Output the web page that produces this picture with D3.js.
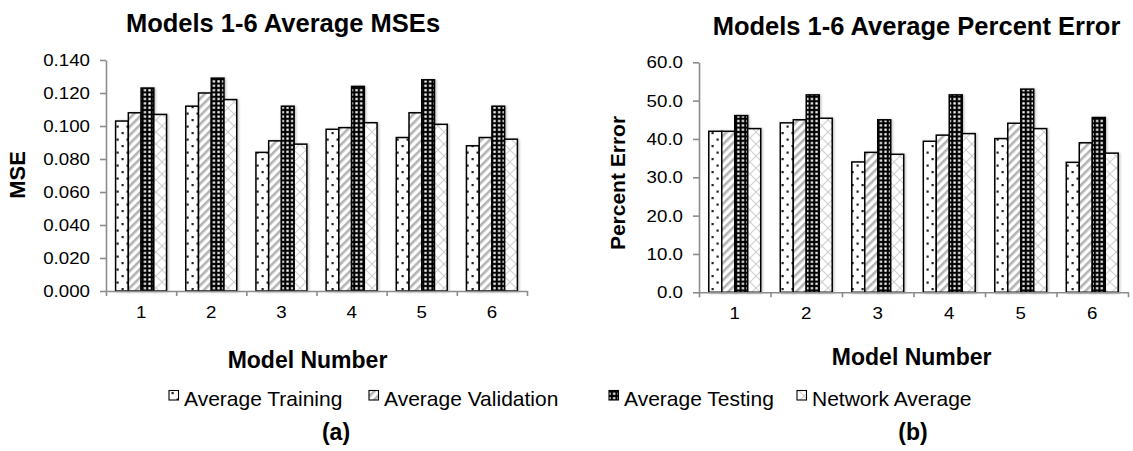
<!DOCTYPE html>
<html><head><meta charset="utf-8">
<script src="https://cdn.jsdelivr.net/npm/d3@7"></script>
<style>
html,body{margin:0;padding:0;background:#fff;}
text{font-family:"Liberation Sans",Arial,Helvetica,sans-serif;fill:#000;}
</style></head>
<body>
<script>
// ---- data ----
const models = ["1","2","3","4","5","6"];
const seriesNames = ["Average Training","Average Validation","Average Testing","Network Average"];
const mseTraining   = [0.103, 0.112, 0.084, 0.098, 0.093, 0.088];
const mseValidation = [0.108, 0.120, 0.091, 0.099, 0.108, 0.093];
const mseTesting    = [0.123, 0.129, 0.112, 0.124, 0.128, 0.112];
const mseNetwork    = [0.107, 0.116, 0.089, 0.102, 0.101, 0.092];
const pctTraining   = [42.0, 44.2, 34.0, 39.4, 40.1, 33.9];
const pctValidation = [42.0, 45.0, 36.5, 41.0, 44.1, 39.0];
const pctTesting    = [46.1, 51.5, 45.0, 51.5, 53.0, 45.6];
const pctNetwork    = [42.7, 45.4, 36.0, 41.4, 42.7, 36.3];
const mseTicks = [0, 0.02, 0.04, 0.06, 0.08, 0.10, 0.12, 0.14];
const pctTicks = [0, 10, 20, 30, 40, 50, 60];
const titleA = "Models 1-6 Average MSEs";
const titleB = "Models 1-6 Average Percent Error";
const yLabelA = "MSE";
const yLabelB = "Percent Error";
const xLabel = "Model Number";

const W = 1133, H = 451;
const svg = d3.select("body").append("svg").attr("width", W).attr("height", H);
const defs = svg.append("defs");

// patterns
const pDots = defs.append("pattern").attr("id","pDots").attr("patternUnits","userSpaceOnUse").attr("width",10).attr("height",13);
pDots.append("rect").attr("width",10).attr("height",13).attr("fill","#fff");
pDots.append("rect").attr("x",1.5).attr("y",2).attr("width",2.2).attr("height",2.2).attr("fill","#222");
pDots.append("rect").attr("x",6.5).attr("y",8.5).attr("width",2.2).attr("height",2.2).attr("fill","#222");

const pDiag = defs.append("pattern").attr("id","pDiag").attr("patternUnits","userSpaceOnUse").attr("width",6).attr("height",6).attr("patternTransform","rotate(45)");
pDiag.append("rect").attr("width",6).attr("height",6).attr("fill","#fff");
pDiag.append("rect").attr("x",0).attr("width",2.6).attr("height",6).attr("fill","#b4b4b4");

const pGrid = defs.append("pattern").attr("id","pGrid").attr("patternUnits","userSpaceOnUse").attr("width",4.6).attr("height",4.4);
pGrid.append("rect").attr("width",4.6).attr("height",4.4).attr("fill","#000");
pGrid.append("rect").attr("x",1.2).attr("y",1.1).attr("width",2.3).attr("height",2.2).attr("fill","#fff");

const pCross = defs.append("pattern").attr("id","pCross").attr("patternUnits","userSpaceOnUse").attr("width",12).attr("height",12);
pCross.append("rect").attr("width",12).attr("height",12).attr("fill","#fff");
pCross.append("path").attr("d","M0,0L12,12M12,0L0,12").attr("stroke","#d0d0d0").attr("stroke-width",1.1);

const fills = ["url(#pDots)","url(#pDiag)","url(#pGrid)","url(#pCross)"];

const shadow = defs.append("filter").attr("id","sh").attr("x","-20%").attr("y","-5%").attr("width","150%").attr("height","115%");
shadow.append("feDropShadow").attr("dx",1.2).attr("dy",0.5).attr("stdDeviation",1.2).attr("flood-color","#000").attr("flood-opacity",0.25);

const axisColor = "#8c8c8c";
const fontTick = 17, stretch = 1.1;

function stretchText(sel){
  sel.each(function(){
    const w = this.getComputedTextLength();
    d3.select(this).attr("textLength", w*stretch).attr("lengthAdjust","spacingAndGlyphs");
  });
}

function drawChart(cfg){
  const g = svg.append("g");
  const x = d3.scaleBand().domain(models).range([cfg.x0, cfg.x1]).padding(0);
  const bw = x.bandwidth();
  const xs = d3.scaleBand().domain(seriesNames).range([bw*0.137, bw*0.863]).padding(0);
  const y = d3.scaleLinear().domain(cfg.domain).range([cfg.yb, cfg.yt]);

  // bars
  cfg.series.forEach((vals, si) => {
    g.append("g").selectAll("rect").data(vals).join("rect")
      .attr("x", (d,i) => x(models[i]) + xs(seriesNames[si]))
      .attr("y", d => y(d))
      .attr("width", xs.bandwidth())
      .attr("height", d => y(0) - y(d))
      .attr("fill", fills[si])
      .attr("stroke", "#000").attr("stroke-width", 1.5)
      .attr("filter","url(#sh)");
  });

  // y axis
  const ya = g.append("g").attr("transform", `translate(${cfg.x0},0)`)
    .call(d3.axisLeft(y).tickValues(cfg.ticks).tickFormat(d3.format(cfg.fmt)).tickSize(6).tickSizeOuter(0).tickPadding(10));
  ya.select(".domain").attr("stroke", axisColor).attr("stroke-width", 1.6);
  ya.selectAll(".tick line").attr("stroke", axisColor).attr("stroke-width", 1.6);
  ya.selectAll(".tick text").attr("font-size", fontTick).attr("fill","#000").attr("font-family",'"Liberation Sans",Arial,sans-serif').call(stretchText);

  // x axis: boundary ticks
  const xb = d3.scaleLinear().domain([0, models.length]).range([cfg.x0, cfg.x1]);
  const xa = g.append("g").attr("transform", `translate(0,${cfg.yb})`)
    .call(d3.axisBottom(xb).tickValues(d3.range(models.length+1)).tickFormat("").tickSize(5).tickSizeOuter(0));
  xa.select(".domain").attr("stroke", axisColor).attr("stroke-width", 1.6);
  xa.selectAll(".tick line").attr("stroke", axisColor).attr("stroke-width", 1.6);
  // labels
  const xl = g.append("g").attr("transform", `translate(0,${cfg.yb})`)
    .call(d3.axisBottom(x).tickSize(0).tickPadding(15));
  xl.select(".domain").remove();
  xl.selectAll(".tick text").attr("font-size", fontTick).attr("fill","#000").attr("font-family",'"Liberation Sans",Arial,sans-serif').call(stretchText);

  // titles
  g.append("text").attr("x", cfg.titleX).attr("y", cfg.titleY).attr("text-anchor","middle")
    .attr("font-size", 25.5).attr("font-weight","bold").text(cfg.title);
  g.append("text").attr("transform", `translate(${cfg.ylabX},${cfg.ylabY}) rotate(-90)`).attr("text-anchor","middle")
    .attr("font-size", cfg.ylabSize).attr("font-weight","bold").text(cfg.ylabel);
  g.append("text").attr("x", cfg.xlabX).attr("y", cfg.xlabY).attr("text-anchor","middle")
    .attr("font-size", 23).attr("font-weight","bold").text(xLabel);
  g.append("text").attr("x", cfg.capX).attr("y", 440).attr("text-anchor","middle")
    .attr("font-size", 23).attr("font-weight","bold").text(cfg.cap);
}

drawChart({x0:106, x1:527, yb:291, yt:60, domain:[0,0.14], ticks:mseTicks, fmt:".3f",
  series:[mseTraining, mseValidation, mseTesting, mseNetwork],
  title:titleA, titleX:283, titleY:32, ylabel:yLabelA, ylabX:25, ylabY:175, ylabSize:22,
  xlabX:307.5, xlabY:367.5, cap:"(a)", capX:336});

drawChart({x0:699, x1:1128, yb:292.3, yt:62.3, domain:[0,60], ticks:pctTicks, fmt:".1f",
  series:[pctTraining, pctValidation, pctTesting, pctNetwork],
  title:titleB, titleX:916.5, titleY:35, ylabel:yLabelB, ylabX:625, ylabY:183, ylabSize:21,
  xlabX:911.7, xlabY:365, cap:"(b)", capX:913});

// legend
const legendX = [169, 369, 609, 797];
const lg = svg.append("g");
seriesNames.forEach((name, i) => {
  lg.append("rect").attr("x", legendX[i]).attr("y", 390.5).attr("width", 9.5).attr("height", 9.5)
    .attr("fill", fills[i]).attr("stroke","#000").attr("stroke-width",1.1);
  lg.append("text").attr("x", legendX[i] + 15).attr("y", 406).attr("font-size", 21).text(name);
});
</script>
</body></html>
